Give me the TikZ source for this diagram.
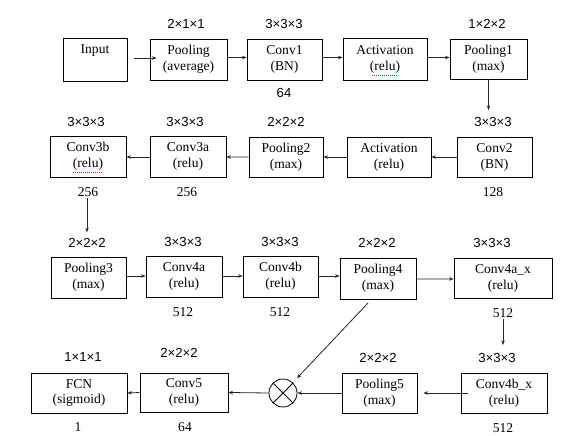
\documentclass[tikz,border=0pt]{standalone}
\usepackage{fontspec}
\setmainfont{Liberation Serif}
\newfontfamily\arialf{Liberation Sans}
\usetikzlibrary{arrows.meta,calc}
\begin{document}
\begin{tikzpicture}[x=1bp,y=-1bp,
 box/.style={draw, line width=0.9bp, inner sep=0pt, align=center, font=\fontsize{13.6}{16}\selectfont},
 dim/.style={font=\arialf\fontsize{13.2}{15}\selectfont, inner sep=1bp},
 num/.style={font=\fontsize{13.6}{15}\selectfont, inner sep=1bp},
 arr/.style={-{Stealth[length=4.5bp,width=3.5bp]}, line width=0.8bp, draw=black!85},
 squig/.style={draw=red, dash pattern=on 1bp off 1bp, line width=0.8bp}]
\useasboundingbox (0,0) rectangle (578,436);
\fill[white] (0,0) rectangle (578,436);

% ---- row 1
\node[box, minimum width=64bp, minimum height=43bp] (in) at (95,59.5) {Input\\\strut};
\node[box, minimum width=77bp, minimum height=41bp] (pa) at (188.5,59.5) {Pooling\\(average)};
\node[box, minimum width=75bp, minimum height=41bp] (c1) at (284.5,59.5) {Conv1\\(BN)};
\node[box, minimum width=84bp, minimum height=42bp] (a1) at (385,59) {Activation\\(relu)};
\node[box, minimum width=77bp, minimum height=40bp] (p1) at (488.5,59) {Pooling1\\(max)};

\node[dim] (lpa) at (186,24) {2×1×1};
\node[dim] (lc1) at (284,24) {3×3×3};
\node[dim] (lp1) at (487,24) {1×2×2};
\node[dim] (nc1) at (284,93) {64};

% ---- row 2
\node[box, minimum width=75bp, minimum height=40bp] (c2) at (494.5,157) {Conv2\\(BN)};
\node[box, minimum width=84bp, minimum height=40bp] (a2) at (389,157) {Activation\\(relu)};
\node[box, minimum width=74bp, minimum height=40bp] (p2) at (286,157) {Pooling2\\(max)};
\node[box, minimum width=76bp, minimum height=41bp] (c3a) at (188,156.5) {Conv3a\\(relu)};
\node[box, minimum width=76bp, minimum height=41bp] (c3b) at (88,156.5) {Conv3b\\(relu)};

\node[dim] (lc2) at (493,122) {3×3×3};
\node[dim] (lp2) at (286,122) {2×2×2};
\node[dim] (lc3a) at (185,122) {3×3×3};
\node[dim] (lc3b) at (86,122) {3×3×3};
\node[num] (nc2) at (493,192) {128};
\node[num] (nc3a) at (187,192) {256};
\node[num] (nc3b) at (88,192) {256};

% ---- row 3
\node[box, minimum width=75bp, minimum height=41bp] (p3) at (88.5,277.5) {Pooling3\\(max)};
\node[box, minimum width=76bp, minimum height=41bp] (c4a) at (184,276.5) {Conv4a\\(relu)};
\node[box, minimum width=75bp, minimum height=41bp] (c4b) at (280.5,276.5) {Conv4b\\(relu)};
\node[box, minimum width=76bp, minimum height=41bp] (p4) at (378,278.5) {Pooling4\\(max)};
\node[box, minimum width=98bp, minimum height=40bp] (c4ax) at (503,278) {Conv4a\_x\\(relu)};

\node[dim] (lp3) at (87,243) {2×2×2};
\node[dim] (lc4a) at (183,242) {3×3×3};
\node[dim] (lc4b) at (280,242) {3×3×3};
\node[dim] (lp4) at (377,243) {2×2×2};
\node[dim] (lc4ax) at (492,243) {3×3×3};
\node[num] (nc4a) at (183,312) {512};
\node[num] (nc4b) at (280,312) {512};
\node[num] (nc4ax) at (503,313) {512};

% ---- row 4
\node[box, minimum width=86bp, minimum height=40bp] (c4bx) at (504,393) {Conv4b\_x\\(relu)};
\node[box, minimum width=75bp, minimum height=40bp] (p5) at (379.5,393) {Pooling5\\(max)};
\node[draw, circle, minimum size=28bp, inner sep=0pt, line width=0.8bp] (ox) at (283,393) {};
\node[box, minimum width=88bp, minimum height=39bp] (c5) at (184,392.5) {Conv5\\(relu)};
\node[box, minimum width=96bp, minimum height=40bp] (fcn) at (79,393) {FCN\\(sigmoid)};
\draw[line width=0.8bp] (ox.north east) -- (ox.south west) (ox.north west) -- (ox.south east);

\node[dim] (lc4bx) at (497,358) {3×3×3};
\node[dim] (lp5) at (378,358) {2×2×2};
\node[dim] (lc5) at (179,353) {2×2×2};
\node[dim] (lfcn) at (83,357) {1×1×1};
\node[num] (nc4bx) at (503,428) {512};
\node[num] (nc5) at (185,427) {64};
\node[num] (nfcn) at (78,427) {1};

% ---- connectors
\draw[arr] ($(in.east)+(7,-1.5)$) -- ($(pa.west)+(7,-1.5)$);
\draw[arr] ($(pa.east)+(0,-2)$) -- ($(c1.west)+(0,-2)$);
\draw[arr] ($(c1.east)+(0,-2)$) -- ($(a1.west)+(0,-1.5)$);
\draw[arr] ($(a1.east)+(0,-1.5)$) -- ($(p1.west)+(0,-1.5)$);
\draw[arr] (p1.south) -- (p1.south |- 0,110);
\draw[arr] (c2.west) -- (a2.east);
\draw[arr] (a2.west) -- (p2.east);
\draw[arr] (p2.west) -- ($(c3a.east)+(0,0.5)$);
\draw[arr] ($(c3a.west)+(0,0.5)$) -- ($(c3b.east)+(0,0.5)$);
\draw[arr] ($(nc3b.south)+(-1,0)$) -- ($(lp3.north)+(0,-5)$);
\draw[arr] ($(p3.east)+(0,-1.5)$) -- ($(c4a.west)+(0,-0.5)$);
\draw[arr] ($(c4a.east)+(0,-0.5)$) -- ($(c4b.west)+(0,-0.5)$);
\draw[arr] ($(c4b.east)+(0,-0.5)$) -- ($(p4.west)+(0,-2.5)$);
\draw[arr] ($(p4.east)+(0,0.5)$) -- ($(c4ax.west)+(0,1)$);
\draw[arr] (nc4ax.south) -- (nc4ax.south |- 0,345);
\draw[arr] ($(c4bx.west)+(7,0)$) -- ($(p5.east)+(6,0)$);
\draw[arr] (p5.west) -- (ox.east);
\draw[arr] (ox.west) -- (c5.east);
\draw[arr] (c5.west) -- (fcn.east);
\coordinate (d1) at (368,303);
\draw[arr, shorten >=6bp] (d1) -- (ox);

% spell-check marks
\draw[squig] (372,75.5) -- (397,75.5);
\draw[squig] (73,172.5) -- (102,172.5);
\end{tikzpicture}
\end{document}
